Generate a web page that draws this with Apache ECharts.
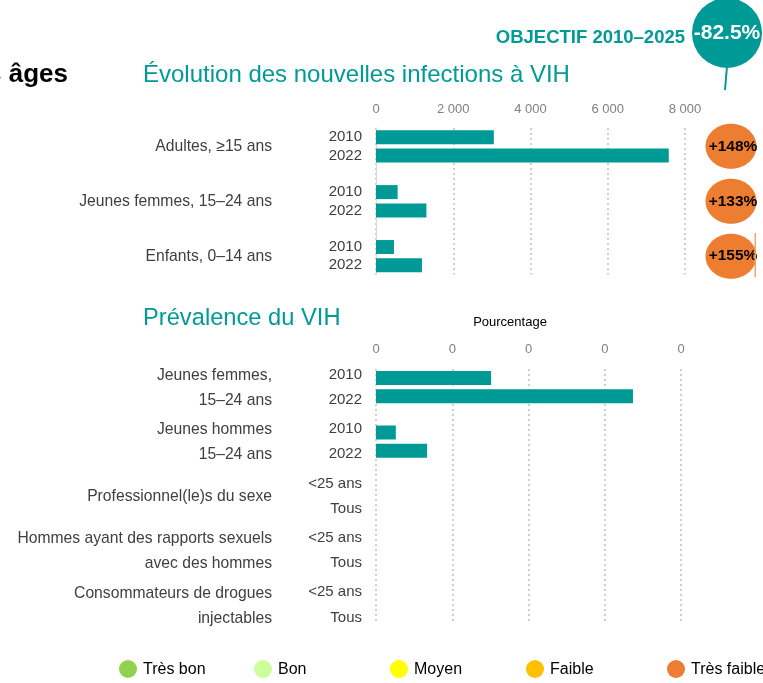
<!DOCTYPE html>
<html>
<head>
<meta charset="utf-8">
<script src="https://cdn.jsdelivr.net/npm/echarts@6/dist/echarts.min.js"></script>
<style>
  html, body { margin: 0; padding: 0; background: #fff; }
  #chart { width: 763px; height: 683px; }
</style>
</head>
<body>
<div id="chart"></div>
<script>
// nouvelles infections à VIH
const infectionGroups = ['Adultes, ≥15 ans', 'Jeunes femmes, 15–24 ans', 'Enfants, 0–14 ans'];
const infectionYears = ['2010', '2022'];
const infections2010 = [3050, 560, 465];
const infections2022 = [7580, 1305, 1190];
const infectionChange = ['+148%', '+133%', '+155%'];
const infectionTicks = [0, 2000, 4000, 6000, 8000];

// prévalence du VIH
const prevGroups = [
  'Jeunes femmes,\n15–24 ans',
  'Jeunes hommes\n15–24 ans',
  'Professionnel(le)s du sexe',
  'Hommes ayant des rapports sexuels\navec des hommes',
  'Consommateurs de drogues\ninjectables'
];
const prevRowLabels = [['2010', '2022'], ['2010', '2022'], ['<25 ans', 'Tous'], ['<25 ans', 'Tous'], ['<25 ans', 'Tous']];
const prevFirst = [0.151, 0.026, null, null, null];
const prevSecond = [0.337, 0.067, null, null, null];
const prevTicks = [0, 0.1, 0.2, 0.3, 0.4];

const objective = '-82.5%';
const legendLabels = ['Très bon', 'Bon', 'Moyen', 'Faible', 'Très faible'];
const legendColors = ['#92D050', '#CCFF99', '#FFFF00', '#FFC000', '#ED7D31'];

const TEAL = '#009A96';
const FONT = '"Liberation Sans", Arial, sans-serif';

// two rows per group, a blank row between groups
function slots(rowLabels, a, b) {
  const labels = [], data = [], first = [], pos = [];
  rowLabels.forEach((pair, i) => {
    first.push(labels.length);
    labels.push(pair[0], pair[1]);
    pos.push('a', 'b');
    data.push(a[i], b[i]);
    if (i < rowLabels.length - 1) { labels.push(''); pos.push(''); data.push(null); }
  });
  return { labels, data, first, pos };
}

const inf = slots(infectionGroups.map(() => infectionYears), infections2010, infections2022);
const prev = slots(prevRowLabels, prevFirst, prevSecond);

const chart = echarts.init(document.getElementById('chart'));

const thousands = v => String(v).replace(/\B(?=(\d{3})+(?!\d))/g, ' ');
const split = { show: true, lineStyle: { color: '#cfcfcf', width: 2, type: [2, 3] } };
const rowText = { color: '#404040', fontSize: 15, fontFamily: FONT };

chart.setOption({
  animation: false,
  textStyle: { fontFamily: FONT },
  grid: [
    { left: 376, right: 78, top: 128, height: 146.5 },
    { left: 376, right: 82, top: 369, height: 254 }
  ],
  xAxis: [
    {
      gridIndex: 0, type: 'value', position: 'top',
      min: infectionTicks[0], max: infectionTicks[infectionTicks.length - 1],
      interval: infectionTicks[1] - infectionTicks[0],
      axisLine: { show: false }, axisTick: { show: false },
      axisLabel: { color: '#808080', fontSize: 13, margin: 12, formatter: thousands },
      splitLine: split
    },
    {
      gridIndex: 1, type: 'value', position: 'top',
      min: prevTicks[0], max: prevTicks[prevTicks.length - 1],
      interval: prevTicks[1] - prevTicks[0],
      axisLine: { show: false }, axisTick: { show: false },
      axisLabel: { color: '#808080', fontSize: 13, margin: 13, formatter: v => v.toFixed(0) },
      splitLine: split
    }
  ],
  yAxis: [
    {
      gridIndex: 0, type: 'category', inverse: true,
      data: inf.labels.map((l, i) => i),
      axisLine: { show: true, lineStyle: { color: '#d9d9d9', width: 1 } },
      axisTick: { show: false },
      axisLabel: Object.assign({ interval: 0, margin: 14, formatter: (v, i) => inf.labels[i] }, rowText)
    },
    {
      gridIndex: 1, type: 'category', inverse: true,
      data: prev.labels.map((l, i) => i),
      axisLine: { show: false },
      axisTick: { show: false },
      axisLabel: Object.assign({
        interval: 0, margin: 14,
        formatter: (v, i) => prev.labels[i] ? '{' + prev.pos[i] + '|' + prev.labels[i] + '}' : '',
        rich: {
          a: Object.assign({ padding: [0, 0, 7, 0] }, rowText),
          b: Object.assign({ padding: [7, 0, 0, 0] }, rowText)
        }
      }, rowText)
    }
  ],
  series: [
    { type: 'bar', xAxisIndex: 0, yAxisIndex: 0, barWidth: 14, itemStyle: { color: TEAL }, data: inf.data },
    { type: 'bar', xAxisIndex: 1, yAxisIndex: 1, barWidth: 14, itemStyle: { color: TEAL }, data: prev.data }
  ]
});

const graphic = [];
const text = (x, y, t, style) => graphic.push({
  type: 'text', x, y, silent: true,
  style: Object.assign({ text: t, fontFamily: FONT, verticalAlign: 'middle' }, style)
});
// centre between the two rows of a group
const pairY = (grid, k) => (chart.convertToPixel({ gridIndex: grid }, [0, k])[1] +
                            chart.convertToPixel({ gridIndex: grid }, [0, k + 1])[1]) / 2;

// titles
text(68, 75, 'à travers les âges', { align: 'right', fontSize: 26, fontWeight: 'bold', fill: '#000' });
text(143, 75, 'Évolution des nouvelles infections à VIH', { fontSize: 24, fill: TEAL });
text(143, 318, 'Prévalence du VIH', { fontSize: 23.7, fill: TEAL });
text(510, 322, 'Pourcentage', { align: 'center', fontSize: 13, fill: '#000' });
text(685, 38, 'OBJECTIF 2010–2025', { align: 'right', fontSize: 18.5, fontWeight: 'bold', fill: TEAL });

// objective bubble
graphic.push({ type: 'line', silent: true, shape: { x1: 727, y1: 66, x2: 725, y2: 90 }, style: { stroke: TEAL, lineWidth: 2 } });
graphic.push({ type: 'circle', silent: true, shape: { cx: 727, cy: 33, r: 35 }, style: { fill: TEAL } });
text(727, 33, objective, { align: 'center', fontSize: 21, fontWeight: 'bold', fill: '#fff' });

// group labels + change badges
inf.first.forEach((k, i) => {
  const y = pairY(0, k);
  text(272, y, infectionGroups[i], { align: 'right', fontSize: 15.7, fill: '#404040' });
  graphic.push({ type: 'ellipse', silent: true, shape: { cx: 731, cy: y, rx: 25.5, ry: 22.5 }, style: { fill: '#ED7D31' } });
  text(733, y, infectionChange[i], { align: 'center', fontSize: 15.5, fontWeight: 'bold', fill: '#000' });
});
graphic.push({ type: 'rect', silent: true, z: 100, shape: { x: 757, y: 115, width: 6, height: 170 }, style: { fill: '#fff' } });
graphic.push({ type: 'rect', silent: true, z: 101, shape: { x: 754.5, y: 233, width: 1.5, height: 44 }, style: { fill: '#F2A46E' } });
prev.first.forEach((k, i) => {
  const y = pairY(1, k);
  text(272, y + 1, prevGroups[i], { align: 'right', fontSize: 15.7, lineHeight: 25, fill: '#404040' });
});

// legend
const legendX = [128, 263, 399, 535, 676];
legendLabels.forEach((l, i) => {
  graphic.push({ type: 'circle', silent: true, shape: { cx: legendX[i], cy: 669, r: 9 }, style: { fill: legendColors[i] } });
  text(legendX[i] + 15, 670, l, { fontSize: 16, fill: '#000' });
});

chart.setOption({ graphic });
</script>
</body>
</html>
